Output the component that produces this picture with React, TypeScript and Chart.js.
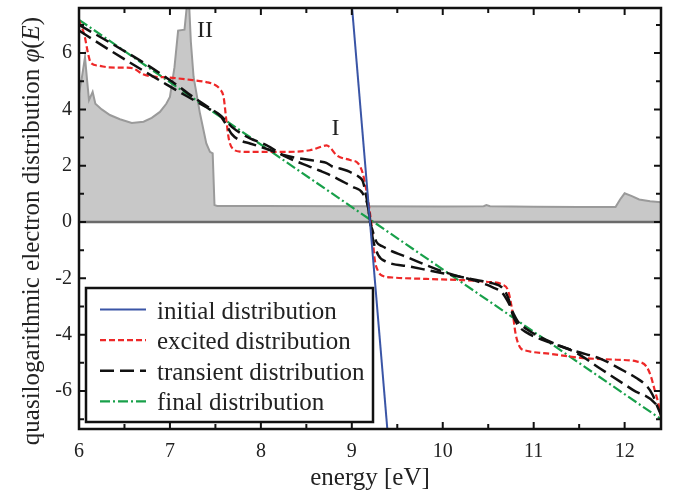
import { useEffect, useRef } from "react";
import { Chart, registerables } from "chart.js";

Chart.register(...registerables);

const FONT = '"Liberation Serif", "Times New Roman", serif';

// axis ranges
const xMin = 6;
const xMax = 12.4;
const yMin = -7.35;
const yMax = 7.6;

// grey background (density of states)
const dosE = [6.0, 6.03, 6.066, 6.09, 6.11, 6.15, 6.18, 6.25, 6.34, 6.45, 6.58, 6.71, 6.8, 6.89, 6.96, 7.0, 7.05, 7.09, 7.16, 7.19, 7.21, 7.23, 7.26, 7.33, 7.4, 7.44, 7.47, 7.49, 7.52, 8.0, 9.0, 10.0, 10.45, 10.48, 10.52, 11.0, 11.5, 11.9, 11.95, 12.0, 12.08, 12.16, 12.28, 12.4];
const dosPhi = [4.57, 5.1, 5.85, 5.0, 4.33, 4.62, 4.2, 4.0, 3.8, 3.65, 3.52, 3.56, 3.7, 3.91, 4.2, 4.44, 5.5, 6.8, 6.83, 7.8, 7.8, 6.4, 5.15, 3.86, 2.79, 2.49, 2.44, 0.6, 0.57, 0.57, 0.56, 0.55, 0.56, 0.6, 0.56, 0.54, 0.53, 0.53, 0.8, 1.02, 0.92, 0.8, 0.74, 0.7];

// zero line
const zeroE = [6, 12.4];
const zeroPhi = [0, 0];

// initial distribution
const initialE = [8.95, 9.45];
const initialPhi = [9.65, -9.65];

// excited distribution
const excitedE = [6.0, 6.06, 6.1, 6.13, 6.22, 6.33, 6.52, 6.6, 6.7, 6.8, 6.99, 7.25, 7.4, 7.49, 7.55, 7.59, 7.62, 7.65, 7.7, 7.78, 7.88, 8.25, 8.54, 8.68, 8.72, 8.76, 8.83, 8.98, 9.07, 9.12, 9.16, 9.19, 9.22, 9.25, 9.29, 9.33, 9.45, 9.82, 10.19, 10.48, 10.66, 10.72, 10.77, 10.8, 10.85, 10.92, 11.18, 11.54, 11.91, 12.13, 12.24, 12.29, 12.33, 12.37, 12.4];
const excitedPhi = [7.16, 6.63, 5.98, 5.65, 5.55, 5.49, 5.48, 5.45, 5.25, 5.17, 5.13, 5.04, 4.97, 4.88, 4.72, 4.44, 3.62, 2.91, 2.58, 2.5, 2.49, 2.49, 2.55, 2.69, 2.72, 2.65, 2.38, 2.2, 2.08, 1.73, 1.13, 0.54, -0.2, -1.29, -1.75, -1.9, -1.97, -2.02, -2.06, -2.12, -2.23, -2.45, -3.25, -3.95, -4.45, -4.57, -4.68, -4.83, -4.89, -4.95, -5.13, -5.49, -5.96, -6.43, -6.9];

// transient distribution (earlier stage)
const transient1E = [6.0, 6.33, 6.7, 6.96, 7.25, 7.45, 7.55, 7.62, 7.68, 7.77, 7.88, 8.06, 8.25, 8.54, 8.65, 8.72, 8.78, 8.87, 8.95, 9.01, 9.08, 9.12, 9.16, 9.2, 9.23, 9.29, 9.38, 9.64, 10.0, 10.19, 10.37, 10.55, 10.65, 10.72, 10.77, 10.83, 10.92, 11.18, 11.47, 11.73, 12.0, 12.13, 12.25, 12.31, 12.36, 12.4];
const transient1Phi = [6.8, 6.12, 5.39, 4.89, 4.35, 3.98, 3.78, 3.45, 3.12, 2.9, 2.79, 2.6, 2.38, 2.2, 2.15, 2.1, 1.98, 1.9, 1.82, 1.73, 1.6, 1.45, 0.9, 0.1, -0.58, -1.17, -1.41, -1.58, -1.82, -1.94, -2.06, -2.18, -2.32, -2.7, -3.3, -3.68, -3.92, -4.28, -4.6, -4.85, -5.3, -5.54, -5.85, -6.15, -6.55, -6.85];

// transient distribution (later stage)
const transient2E = [6.0, 6.33, 6.7, 7.03, 7.25, 7.45, 7.55, 7.62, 7.68, 7.81, 7.88, 8.06, 8.25, 8.54, 8.65, 8.72, 8.87, 9.01, 9.12, 9.18, 9.2, 9.22, 9.27, 9.34, 9.64, 10.0, 10.19, 10.37, 10.55, 10.65, 10.72, 10.77, 10.83, 10.92, 11.18, 11.47, 11.73, 12.09, 12.35, 12.4];
const transient2Phi = [7.0, 6.39, 5.68, 4.97, 4.45, 4.02, 3.8, 3.58, 3.38, 3.09, 2.97, 2.73, 2.36, 1.96, 1.82, 1.73, 1.49, 1.25, 1.02, 0.5, 0.0, -0.22, -0.7, -0.87, -1.29, -1.76, -1.94, -2.1, -2.32, -2.5, -2.85, -3.2, -3.55, -3.8, -4.25, -4.65, -5.2, -5.96, -6.49, -6.8];

// final distribution
const finalE = [6.0, 12.4];
const finalPhi = [7.18, -7.0];

const legendLabels = ["initial distribution", "excited distribution", "transient distribution", "final distribution"];
const annotationTexts = ["II", "I"];
const annotationE = [7.385, 8.82];
const annotationPhi = [6.8, 3.33];

const xTitle = "energy [eV]";
const yTitleMain = "quasilogarithmic electron distribution ";

const BLUE = "#3a55a6";
const RED = "#ee2828";
const BLACK = "#111111";
const GREEN = "#18a04a";

function pts(xs: number[], ys: number[]) {
  return xs.map((x, i) => ({ x, y: ys[i] }));
}

const legendStyles = [
  { color: BLUE, dash: [] as number[], width: 2 },
  { color: RED, dash: [6, 3], width: 2.2 },
  { color: BLACK, dash: [14, 6], width: 2.5 },
  { color: GREEN, dash: [10, 3, 2, 3], width: 2.2 },
];

const decorPlugin = {
  id: "decor",
  afterDatasetsDraw(chart: any) {
    const { ctx, chartArea: a, scales } = chart;
    const xs = scales.x;
    const ys = scales.y;
    ctx.save();
    ctx.strokeStyle = "#111";
    ctx.lineWidth = 2;
    ctx.setLineDash([]);
    // inward ticks on x
    for (let k = 0; xMin + k * 0.5 <= xMax + 1e-9; k++) {
      const v = xMin + k * 0.5;
      const px = xs.getPixelForValue(v);
      const len = k % 2 === 0 ? 7 : 5;
      ctx.beginPath();
      ctx.moveTo(px, a.bottom);
      ctx.lineTo(px, a.bottom - len);
      ctx.moveTo(px, a.top);
      ctx.lineTo(px, a.top + len);
      ctx.stroke();
    }
    // inward ticks on y
    for (let v = -7; v <= 7; v++) {
      const py = ys.getPixelForValue(v);
      const len = v % 2 === 0 ? 7 : 5;
      ctx.beginPath();
      ctx.moveTo(a.left, py);
      ctx.lineTo(a.left + len, py);
      ctx.moveTo(a.right, py);
      ctx.lineTo(a.right - len, py);
      ctx.stroke();
    }
    // frame
    ctx.lineWidth = 2.5;
    ctx.strokeRect(a.left, a.top, a.right - a.left, a.bottom - a.top);

    // annotations
    ctx.fillStyle = "#222";
    ctx.font = `24px ${FONT}`;
    ctx.textAlign = "center";
    ctx.textBaseline = "middle";
    annotationTexts.forEach((t, i) => {
      ctx.fillText(t, xs.getPixelForValue(annotationE[i]), ys.getPixelForValue(annotationPhi[i]));
    });

    // legend
    const bx = 86, by = 288, bw = 287, bh = 134;
    ctx.fillStyle = "#fff";
    ctx.fillRect(bx, by, bw, bh);
    ctx.strokeStyle = "#111";
    ctx.lineWidth = 2.5;
    ctx.strokeRect(bx, by, bw, bh);
    ctx.font = `25px ${FONT}`;
    ctx.textAlign = "left";
    ctx.textBaseline = "alphabetic";
    legendLabels.forEach((lab, i) => {
      const ly = 309.5 + i * 30.6;
      const st = legendStyles[i];
      ctx.strokeStyle = st.color;
      ctx.lineWidth = st.width;
      ctx.setLineDash(st.dash);
      ctx.beginPath();
      ctx.moveTo(100, ly);
      ctx.lineTo(146, ly);
      ctx.stroke();
      ctx.setLineDash([]);
      ctx.fillStyle = "#222";
      ctx.fillText(lab, 157, ly + 9);
    });

    // x title
    ctx.font = `25px ${FONT}`;
    ctx.textAlign = "center";
    ctx.fillStyle = "#222";
    ctx.fillText(xTitle, (a.left + a.right) / 2 + 0, 485);

    // y title with italic phi(E)
    ctx.translate(39, 231);
    ctx.rotate(-Math.PI / 2);
    const normal = `25px ${FONT}`;
    const ital = `italic 25px ${FONT}`;
    const parts: [string, string][] = [
      [yTitleMain, normal],
      ["\u03C6", ital],
      ["(", normal],
      ["E", ital],
      [")", normal],
    ];
    let total = 0;
    parts.forEach(([t, f]) => {
      ctx.font = f;
      total += ctx.measureText(t).width;
    });
    let cx = -total / 2;
    ctx.textAlign = "left";
    parts.forEach(([t, f]) => {
      ctx.font = f;
      ctx.fillText(t, cx, 0);
      cx += ctx.measureText(t).width;
    });
    ctx.restore();
  },
};

export default function App() {
  const ref = useRef<HTMLCanvasElement | null>(null);
  useEffect(() => {
    if (!ref.current) return;
    const chart = new Chart(ref.current, {
      type: "line",
      data: {
        datasets: [
          {
            label: "dos",
            data: pts(dosE, dosPhi),
            borderColor: "#9a9a9a",
            backgroundColor: "#c8c8c8",
            borderWidth: 2,
            fill: "origin",
            order: 10,
            tension: 0,
          },
          {
            label: "zero",
            data: pts(zeroE, zeroPhi),
            borderColor: "#6a6a6a",
            borderWidth: 2.5,
            fill: false,
            order: 9,
          },
          {
            label: legendLabels[3],
            data: pts(finalE, finalPhi),
            borderColor: GREEN,
            borderWidth: 2.2,
            borderDash: [10, 3, 2, 3],
            fill: false,
            order: 5,
          },
          {
            label: legendLabels[1],
            data: pts(excitedE, excitedPhi),
            borderColor: RED,
            borderWidth: 2.2,
            borderDash: [6, 3],
            fill: false,
            cubicInterpolationMode: "monotone",
            order: 4,
          },
          {
            label: legendLabels[2],
            data: pts(transient1E, transient1Phi),
            borderColor: BLACK,
            borderWidth: 2.5,
            borderDash: [14, 6],
            fill: false,
            cubicInterpolationMode: "monotone",
            order: 3,
          },
          {
            label: legendLabels[2] + " 2",
            data: pts(transient2E, transient2Phi),
            borderColor: BLACK,
            borderWidth: 2.5,
            borderDash: [14, 6],
            fill: false,
            cubicInterpolationMode: "monotone",
            order: 2,
          },
          {
            label: legendLabels[0],
            data: pts(initialE, initialPhi),
            borderColor: BLUE,
            borderWidth: 2,
            fill: false,
            order: 1,
          },
        ],
      },
      options: {
        responsive: false,
        maintainAspectRatio: false,
        animation: false,
        layout: { padding: { left: 0, right: 19, top: 8, bottom: 0 } },
        elements: { point: { radius: 0, hoverRadius: 0 } },
        plugins: { legend: { display: false }, tooltip: { enabled: false } },
        scales: {
          x: {
            type: "linear",
            min: xMin,
            max: xMax,
            grid: { display: false, drawTicks: false },
            border: { display: false },
            ticks: {
              stepSize: 1,
              includeBounds: false,
              padding: 11,
              color: "#222",
              font: { family: FONT, size: 20 },
              maxRotation: 0,
            },
            afterFit(s: any) {
              s.height = 63;
              s.paddingLeft = 0;
              s.paddingRight = 0;
            },
          },
          y: {
            type: "linear",
            min: yMin,
            max: yMax,
            grid: { display: false, drawTicks: false },
            border: { display: false },
            ticks: {
              stepSize: 2,
              includeBounds: false,
              padding: 7,
              color: "#222",
              font: { family: FONT, size: 20 },
            },
            afterFit(s: any) {
              s.width = 79;
              s.paddingTop = 0;
              s.paddingBottom = 0;
            },
          },
        },
      },
      plugins: [decorPlugin],
    } as any);
    return () => chart.destroy();
  }, []);
  return (
    <div style={{ position: "absolute", left: 0, top: 0, width: 680, height: 492 }}>
      <canvas ref={ref} width={680} height={492} style={{ display: "block" }} />
    </div>
  );
}
